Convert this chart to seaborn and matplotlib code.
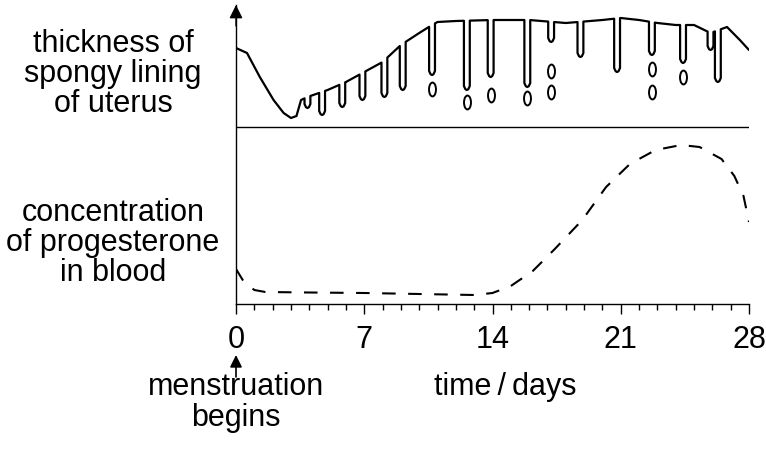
import numpy as np
import matplotlib
matplotlib.use("Agg")
import matplotlib.pyplot as plt
from matplotlib.markers import MarkerStyle
from matplotlib.transforms import Affine2D
import seaborn as sns

# lining thickness (upper trace), arbitrary units above the time axis
lining_days = [0, 0.6, 1.3, 2.05, 2.6, 3.0, 3.3, 3.55, 3.9, 5, 6, 7, 8, 9, 10, 10.7,
               11, 12, 14, 16, 18, 20, 21, 22, 23, 24, 25, 25.9, 26.8, 27.5, 28]
lining_vals = [256, 251, 227, 204, 191, 186, 188, 204, 207, 214, 222, 232, 242, 259, 271, 279,
               282, 283, 284, 284, 281, 284, 286, 284, 281, 279, 279, 271, 277, 264, 254]

# glands hanging down from the lining surface
gland_days = [3.9, 4.7, 5.8, 6.9, 8.1, 9.1, 10.7, 12.6, 13.9, 15.9, 17.2, 18.8, 20.8,
              22.7, 24.4, 25.9, 26.3]
gland_bottoms = [196, 189, 197, 204, 207, 214, 229, 214, 227, 217, 262, 247, 232,
                 249, 241, 254, 222]

# broken-off gland pieces
blob_days = [10.7, 12.6, 13.9, 15.9, 17.2, 17.2, 22.7, 22.7, 24.4]
blob_vals = [215, 202, 209, 206, 233, 212, 235, 212, 227]

# progesterone (lower trace)
prog_days = [0, 0.4, 1.0, 1.6, 4, 7, 10, 13, 14, 15, 16.2, 17.4, 18.9, 20.2, 21.5,
             22.9, 24.3, 25.3, 26.5, 27.2, 27.7, 28]
prog_vals = [35, 23, 14, 12, 11.5, 11, 10, 9, 11, 18, 33, 55, 84, 117, 140,
             154, 159, 157, 145, 128, 108, 82]

divider = 177
day_ticks = [0, 7, 14, 21, 28]

sns.set_theme(style="white", rc={"text.color": "black", "xtick.color": "black",
                                 "axes.edgecolor": "black"})
plt.rcParams["font.family"] = ["Liberation Sans", "DejaVu Sans"]

fig = plt.figure(figsize=(7.66, 4.57), dpi=100)
ax = fig.add_axes([236 / 766, 153 / 457, 513 / 766, 299 / 457])

# build lining path with U-shaped glands
hw = 0.16
groups = []
for d, v in zip(lining_days, lining_vals):
    if all(abs(d - g) > hw for g in gland_days):
        groups.append([(d, v)])
for g, b in zip(gland_days, gland_bottoms):
    top_l = np.interp(g - hw, lining_days, lining_vals)
    top_r = np.interp(g + hw, lining_days, lining_vals)
    groups.append([(g - hw, top_l), (g - hw, b + 4), (g - hw * 0.5, b + 0.8), (g, b),
                   (g + hw * 0.5, b + 0.8), (g + hw, b + 4), (g + hw, top_r)])
groups.sort(key=lambda grp: grp[0][0])
pts = [p for grp in groups for p in grp]
lx = [p[0] for p in pts]
ly = [p[1] for p in pts]

sns.lineplot(x=lx, y=ly, sort=False, estimator=None, color="black", lw=1.6, ax=ax)

blob_marker = MarkerStyle("o", transform=Affine2D().scale(0.5, 1.0))
sns.scatterplot(x=blob_days, y=blob_vals, marker=blob_marker, s=100, facecolor="white",
                edgecolor="black", linewidth=1.4, ax=ax, zorder=3)

sns.lineplot(x=prog_days, y=prog_vals, color="black", lw=1.5, linestyle=(0, (6.5, 6)), ax=ax)

ax.axhline(divider, color="black", lw=1.0)

ax.set_xlim(0, 28)
ax.set_ylim(0, 299)
ax.set_yticks([])
ax.set_xticks(day_ticks)
ax.set_xticks(range(29), minor=True)
ax.set_xticklabels([str(t) for t in day_ticks], fontsize=22)
ax.tick_params(axis="x", which="major", length=7, width=1, color="black", labelcolor="black",
               pad=8, bottom=True)
ax.tick_params(axis="x", which="minor", length=4, width=1, color="black", bottom=True)
ax.set_xlabel("")
ax.set_ylabel("")
sns.despine(ax=ax)
for side in ["left", "bottom"]:
    ax.spines[side].set_color("black")
    ax.spines[side].set_linewidth(1.0)

# arrow heads
ax.annotate("", xy=(0, 1.0), xytext=(0, 0.93), xycoords="axes fraction",
            arrowprops=dict(arrowstyle="-|>", color="black", lw=1.0, mutation_scale=20,
                            shrinkA=0, shrinkB=0))
ax.annotate("", xy=(0, -51), xytext=(0, -73), xycoords="data", annotation_clip=False,
            arrowprops=dict(arrowstyle="-|>", color="black", lw=1.2, mutation_scale=18,
                            shrinkA=0, shrinkB=0))

ax.text(0, -68, "menstruation\nbegins", ha="center", va="top", fontsize=22,
        linespacing=1.05, clip_on=False)
ax.text(14.7, -68, "time\u2009/\u2009days", ha="center", va="top", fontsize=22, clip_on=False)

fig.text(113 / 766, 1 - 74 / 457, "thickness of\nspongy lining\nof uterus", ha="center",
         va="center", fontsize=22, linespacing=0.98)
fig.text(113 / 766, 1 - 243 / 457, "concentration\nof progesterone\nin blood", ha="center",
         va="center", fontsize=22, linespacing=0.98)

fig.savefig("out.png", dpi=100, facecolor="white")
